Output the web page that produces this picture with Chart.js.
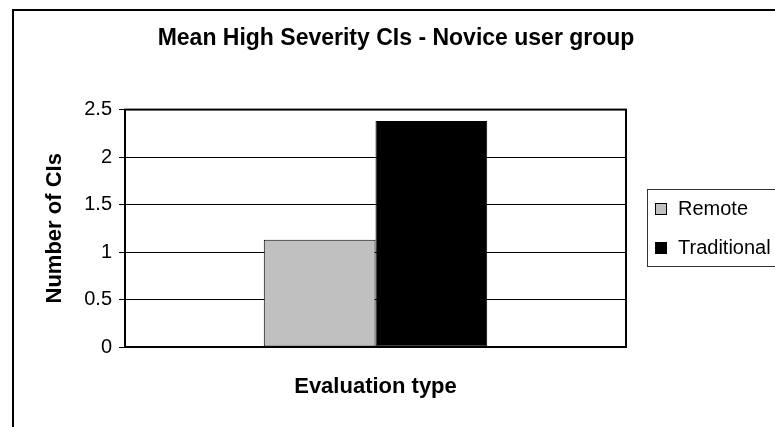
<!DOCTYPE html>
<html>
<head>
<meta charset="utf-8">
<script src="https://cdn.jsdelivr.net/npm/chart.js@4.4.0/dist/chart.umd.min.js"></script>
<style>
  html, body { margin: 0; padding: 0; background: #fff; overflow: hidden; }
  #wrap { width: 775px; height: 427px; overflow: hidden; position: relative; }
  canvas { position: absolute; left: 0; top: 0; }
</style>
</head>
<body>
<div id="wrap"><canvas id="chart" width="792" height="427"></canvas></div>
<script>
// data
const categories = [''];
const seriesNames = ['Remote', 'Traditional'];
const remoteValues = [1.13];
const traditionalValues = [2.38];
const seriesColors = ['#C0C0C0', '#000000'];
const yTickLabels = ['0', '0.5', '1', '1.5', '2', '2.5'];

const FONT = "'Liberation Sans', Arial, Helvetica, sans-serif";
Chart.defaults.font.family = FONT;
Chart.defaults.color = '#000';

// white background, outer chart border, plot frame
const chartFrame = {
  id: 'chartFrame',
  beforeDraw(chart) {
    const ctx = chart.ctx;
    ctx.save();
    ctx.fillStyle = '#fff';
    ctx.fillRect(0, 0, chart.width, chart.height);
    ctx.strokeStyle = '#000';
    ctx.lineWidth = 2;
    ctx.strokeRect(13, 10, 900, 600);
    ctx.restore();
  },
  afterDatasetsDraw(chart) {
    const a = chart.chartArea;
    const ctx = chart.ctx;
    ctx.save();
    ctx.strokeStyle = '#000';
    ctx.lineWidth = 2;
    ctx.strokeRect(a.left, a.top, a.right - a.left, a.bottom - a.top);
    ctx.restore();
  }
};

// legend with a border, added as a layout box on the right
const legendBox = {
  position: 'right',
  weight: 0,
  fullSize: false,
  options: {},
  isHorizontal() { return false; },
  update(maxWidth, maxHeight) {
    this.width = 166;
    this.height = maxHeight;
  },
  draw() {
    const chart = this.chart;
    const ctx = chart.ctx;
    const a = chart.chartArea;
    const cy = (a.top + a.bottom) / 2;
    const x0 = Math.round(this.left) + 21;
    ctx.save();
    ctx.strokeStyle = '#333';
    ctx.lineWidth = 1;
    ctx.strokeRect(x0 + 0.5, Math.round(cy - 39.5) + 0.5, 200, 77);
    ctx.font = '20px ' + FONT;
    ctx.textBaseline = 'middle';
    ctx.textAlign = 'left';
    chart.data.datasets.forEach((ds, i) => {
      const y = Math.round(cy - 19.5 + i * 39);
      ctx.fillStyle = ds.backgroundColor;
      ctx.fillRect(x0 + 8, y - 6, 12, 12);
      ctx.strokeStyle = '#000';
      ctx.strokeRect(x0 + 8.5, y - 5.5, 11, 11);
      ctx.fillStyle = '#000';
      ctx.fillText(ds.label, x0 + 31, y);
    });
    ctx.restore();
  }
};

const boxedLegend = {
  id: 'boxedLegend',
  beforeInit(chart) {
    legendBox.chart = chart;
    if (Chart.layouts && Chart.layouts.addBox) {
      Chart.layouts.addBox(chart, legendBox);
    }
  }
};

new Chart(document.getElementById('chart'), {
  type: 'bar',
  data: {
    labels: categories,
    datasets: [
      {
        label: seriesNames[0],
        data: remoteValues,
        backgroundColor: seriesColors[0],
        borderColor: '#000',
        borderWidth: 1,
        borderSkipped: false
      },
      {
        label: seriesNames[1],
        data: traditionalValues,
        backgroundColor: seriesColors[1],
        borderColor: '#000',
        borderWidth: 1,
        borderSkipped: false
      }
    ]
  },
  options: {
    responsive: false,
    animation: false,
    events: [],
    categoryPercentage: 0.446,
    barPercentage: 1,
    layout: { padding: 0 },
    plugins: {
      legend: { display: false },
      tooltip: { enabled: false },
      title: {
        display: true,
        text: 'Mean High Severity CIs - Novice user group',
        color: '#000',
        font: { size: 23, weight: 'bold' },
        padding: { top: 25, bottom: 57 }
      }
    },
    scales: {
      x: {
        grid: { display: false },
        border: { display: false },
        ticks: { display: false },
        title: {
          display: true,
          text: 'Evaluation type',
          color: '#000',
          font: { size: 22, weight: 'bold' },
          padding: { top: 0, bottom: 27 }
        },
        afterFit(scale) { scale.height = 80; }
      },
      y: {
        min: 0,
        max: 2.5,
        ticks: {
          stepSize: 0.5,
          color: '#000',
          font: { size: 20 },
          padding: 7,
          callback: (v, i) => yTickLabels[i]
        },
        grid: { color: '#000', lineWidth: 1, tickLength: 6, drawTicks: true },
        border: { display: false },
        title: {
          display: true,
          text: 'Number of CIs',
          color: '#000',
          font: { size: 22, weight: 'bold' },
          padding: { top: 42, bottom: 0 }
        },
        afterFit(scale) { scale.width = 125; }
      }
    }
  },
  plugins: [chartFrame, boxedLegend]
});
</script>
</body>
</html>
